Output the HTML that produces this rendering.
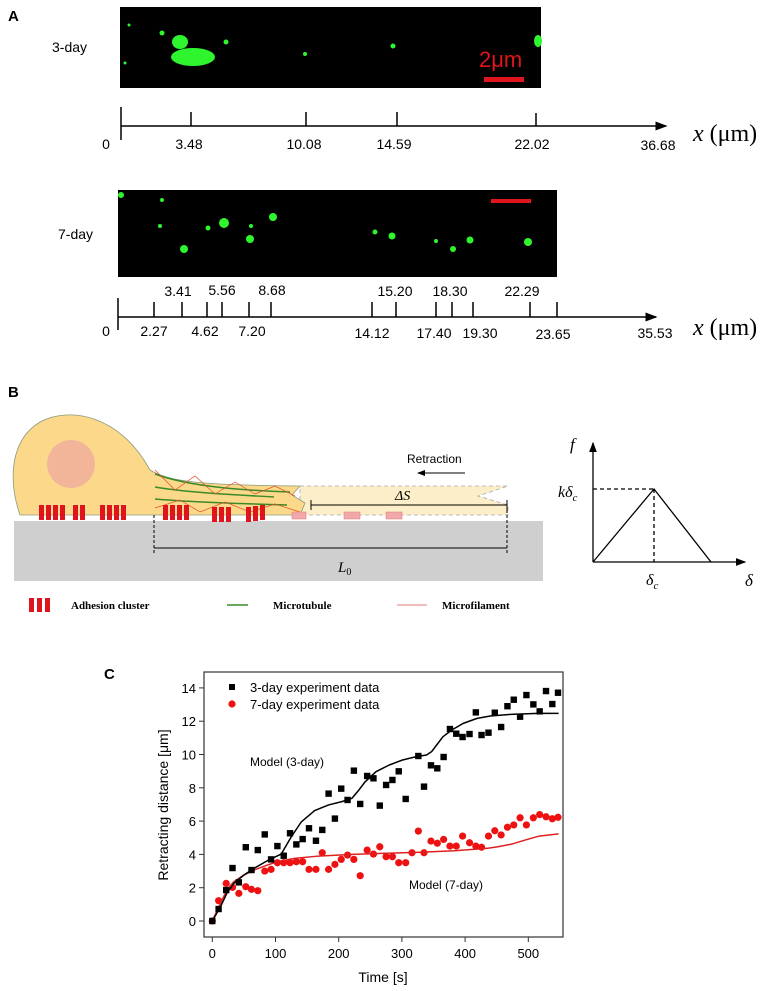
<!DOCTYPE html>
<html><head><meta charset="utf-8"><style>
html,body{margin:0;padding:0;background:#fff;width:767px;height:991px;overflow:hidden}
svg{display:block}
.lbl{font-family:"Liberation Sans",sans-serif}
.num{font-family:"Liberation Sans Narrow","Liberation Sans",sans-serif;font-size:14px}
.ser{font-family:"Liberation Serif",serif}
</style></head><body>
<svg id="fig" width="767" height="991" viewBox="0 0 767 991" xmlns="http://www.w3.org/2000/svg">
<defs>
<marker id="arr" markerWidth="8" markerHeight="8" refX="7" refY="4" orient="auto"><path d="M0,1 L8,4 L0,7 z" fill="#000"/></marker>
</defs>
<!-- Panel A -->
<g>
<text x="8" y="21" class="lbl" font-size="15" font-weight="bold">A</text>
<text x="52" y="52" class="num" font-size="15">3-day</text>
<rect x="120" y="7" width="421" height="81" fill="#000"/>
<g fill="#2ef52e">
<ellipse cx="193" cy="57" rx="22" ry="9"/><ellipse cx="180" cy="42" rx="8" ry="7"/><circle cx="162" cy="33" r="2.5"/><circle cx="226" cy="42" r="2.5"/><circle cx="305" cy="54" r="2"/><circle cx="393" cy="46" r="2.5"/><ellipse cx="538" cy="41" rx="4" ry="6"/><circle cx="125" cy="63" r="1.5"/><circle cx="129" cy="25" r="1.5"/>
</g>
<text x="479" y="67" class="lbl" font-size="22" fill="#e0141c">2μm</text>
<rect x="484" y="77" width="40" height="5" fill="#e0141c"/>
<g stroke="#000" stroke-width="1.5">
<line x1="121" y1="126" x2="666" y2="126" marker-end="url(#arr)"/>
<line x1="121" y1="107" x2="121" y2="140"/>
<line x1="191" y1="112" x2="191" y2="126"/><line x1="306" y1="112" x2="306" y2="126"/><line x1="397" y1="112" x2="397" y2="126"/><line x1="536" y1="113" x2="536" y2="126"/>
</g>
<g class="num" text-anchor="middle">
<text x="106" y="149">0</text><text x="189" y="149">3.48</text><text x="304" y="149">10.08</text><text x="394" y="149">14.59</text><text x="532" y="149">22.02</text><text x="658" y="150">36.68</text>
</g>
<text x="693" y="141" class="ser" font-size="24"><tspan font-style="italic">x</tspan> (μm)</text>

<text x="58" y="239" class="num" font-size="15">7-day</text>
<rect x="118" y="190" width="439" height="87" fill="#000"/>
<g fill="#2ef52e">
<circle cx="184" cy="249" r="4"/><circle cx="224" cy="223" r="5"/><circle cx="208" cy="228" r="2.5"/><circle cx="160" cy="226" r="2"/><circle cx="162" cy="200" r="2"/><circle cx="250" cy="239" r="4"/><circle cx="251" cy="226" r="2"/><circle cx="273" cy="217" r="4"/><circle cx="375" cy="232" r="2.5"/><circle cx="392" cy="236" r="3.5"/><circle cx="436" cy="241" r="2"/><circle cx="453" cy="249" r="3"/><circle cx="470" cy="240" r="3.5"/><circle cx="528" cy="242" r="4"/><circle cx="121" cy="195" r="3"/>
</g>
<rect x="491" y="199" width="40" height="4" fill="#e0141c"/>
<g class="num" text-anchor="middle">
<text x="178" y="296">3.41</text><text x="222" y="295">5.56</text><text x="272" y="295">8.68</text><text x="395" y="296">15.20</text><text x="450" y="296">18.30</text><text x="522" y="296">22.29</text>
</g>
<g stroke="#000" stroke-width="1.5">
<line x1="118" y1="317" x2="656" y2="317" marker-end="url(#arr)"/>
<line x1="118" y1="298" x2="118" y2="330"/>
<line x1="154" y1="302" x2="154" y2="317"/><line x1="182" y1="302" x2="182" y2="317"/><line x1="207" y1="302" x2="207" y2="317"/><line x1="222" y1="302" x2="222" y2="317"/><line x1="249" y1="302" x2="249" y2="317"/><line x1="271" y1="302" x2="271" y2="317"/><line x1="372" y1="302" x2="372" y2="317"/><line x1="396" y1="302" x2="396" y2="317"/><line x1="436" y1="302" x2="436" y2="317"/><line x1="452" y1="302" x2="452" y2="317"/><line x1="473" y1="302" x2="473" y2="317"/><line x1="530" y1="302" x2="530" y2="317"/><line x1="557" y1="302" x2="557" y2="317"/>
</g>
<g class="num" text-anchor="middle">
<text x="106" y="336">0</text><text x="154" y="336">2.27</text><text x="205" y="336">4.62</text><text x="252" y="336">7.20</text><text x="372" y="338">14.12</text><text x="434" y="338">17.40</text><text x="480" y="338">19.30</text><text x="553" y="339">23.65</text><text x="655" y="338">35.53</text>
</g>
<text x="693" y="335" class="ser" font-size="24"><tspan font-style="italic">x</tspan> (μm)</text>
</g>

<!-- Panel B -->
<g>
<text x="8" y="397" class="lbl" font-size="15" font-weight="bold">B</text>
<rect x="14" y="521" width="529" height="60" fill="#cfcfcf"/>
<path d="M300,486 L508,486 L478,496 L508,505 L508,515 L300,515 Z" fill="#fbeec8" stroke="#aaa" stroke-dasharray="4,3" stroke-width="0.8"/>
<path d="M20,515 C8,480 10,440 40,422 C70,406 120,415 150,470 C170,482 200,485 300,486 L292,495 L305,503 L300,515 Z" fill="#fcd98a" stroke="#8a9a7a" stroke-width="0.8"/>
<circle cx="71" cy="464" r="24" fill="#f2b59a"/>
<g fill="none" stroke="#3a8a2a" stroke-width="1.5">
<path d="M155,474 C185,485 230,490 290,492"/><path d="M155,487 C190,493 240,495 274,497"/><path d="M155,499 C190,502 250,504 287,505"/>
</g>
<path d="M155,470 L175,490 L195,476 L215,494 L235,482 L255,494 L275,486 L295,496 M155,508 L180,500 L200,512 L225,502 L250,512 L275,504 L300,512" fill="none" stroke="#e0502a" stroke-width="0.7"/>
<g fill="#e0141c">
<rect x="39" y="505" width="5" height="15"/><rect x="46" y="505" width="5" height="15"/><rect x="53" y="505" width="5" height="15"/><rect x="60" y="505" width="5" height="15"/><rect x="73" y="505" width="5" height="15"/><rect x="80" y="505" width="5" height="15"/>
<rect x="100" y="505" width="5" height="15"/><rect x="107" y="505" width="5" height="15"/><rect x="114" y="505" width="5" height="15"/><rect x="121" y="505" width="5" height="15"/>
<rect x="163" y="505" width="5" height="15"/><rect x="170" y="505" width="5" height="15"/><rect x="177" y="505" width="5" height="15"/><rect x="184" y="505" width="5" height="15"/>
<rect x="212" y="507" width="5" height="15"/><rect x="219" y="507" width="5" height="15"/><rect x="226" y="507" width="5" height="15"/>
<rect x="246" y="507" width="5" height="15"/><rect x="253" y="506" width="5" height="15"/><rect x="260" y="505" width="5" height="15"/>
</g>
<g fill="#f2a8a8" stroke="#e07a7a" stroke-width="0.5">
<rect x="292" y="512" width="14" height="7"/><rect x="344" y="512" width="16" height="7"/><rect x="386" y="512" width="16" height="7"/>
</g>
<g stroke="#000" stroke-width="1">
<line x1="311" y1="505" x2="507" y2="505"/><line x1="311" y1="500" x2="311" y2="510"/><line x1="507" y1="500" x2="507" y2="510"/>
<line x1="154" y1="548" x2="507" y2="548"/><line x1="154" y1="515" x2="154" y2="553" stroke-dasharray="3,2"/><line x1="507" y1="510" x2="507" y2="553" stroke-dasharray="3,2"/>
<line x1="465" y1="473" x2="418" y2="473" marker-end="url(#arr)"/>
</g>
<text x="395" y="500" class="ser" font-size="14" font-style="italic">ΔS</text>
<text x="338" y="572" class="ser" font-size="15" font-style="italic">L<tspan font-size="10" dy="3" font-style="normal">0</tspan></text>
<text x="407" y="463" class="lbl" font-size="12">Retraction</text>
<g>
<rect x="29" y="598" width="5" height="14" fill="#e0141c"/><rect x="37" y="598" width="5" height="14" fill="#e0141c"/><rect x="45" y="598" width="5" height="14" fill="#e0141c"/>
<text x="71" y="609" class="ser" font-size="11" font-weight="bold">Adhesion cluster</text>
<line x1="227" y1="605" x2="248" y2="605" stroke="#3a8a2a" stroke-width="1.5"/>
<text x="273" y="609" class="ser" font-size="11" font-weight="bold">Microtubule</text>
<line x1="397" y1="605" x2="427" y2="605" stroke="#e07a7a" stroke-width="1"/>
<text x="442" y="609" class="ser" font-size="11" font-weight="bold">Microfilament</text>
</g>
<g stroke="#000" stroke-width="1.3" fill="none">
<line x1="593" y1="562" x2="593" y2="443" marker-end="url(#arr)"/>
<line x1="593" y1="562" x2="745" y2="562" marker-end="url(#arr)"/>
<polyline points="593,562 654,489 711,562"/>
<line x1="593" y1="489" x2="654" y2="489" stroke-dasharray="4,3"/>
<line x1="654" y1="489" x2="654" y2="562" stroke-dasharray="4,3"/>
</g>
<text x="570" y="450" class="ser" font-size="17" font-style="italic">f</text>
<text x="558" y="497" class="ser" font-size="16" font-style="italic">kδ<tspan font-size="11" dy="4">c</tspan></text>
<text x="646" y="585" class="ser" font-size="16" font-style="italic">δ<tspan font-size="11" dy="4">c</tspan></text>
<text x="745" y="586" class="ser" font-size="17" font-style="italic">δ</text>
</g>

<!-- Panel C -->
<g id="chartC">
<text x="104" y="679" class="lbl" font-size="15" font-weight="bold">C</text>
</g>
</svg>
<script>
const times3 = [0,10,22,32,42,53,62,72,83,93,103,113,123,133,143,153,164,174,184,194,204,214,224,234,245,255,265,275,285,295,306,326,335,346,356,366,376,386,396,407,417,426,437,447,457,467,477,487,497,508,518,528,538,547];
const values3 = [0,0.72,1.86,3.18,2.32,4.43,3.06,4.26,5.2,3.7,4.5,3.92,5.27,4.6,4.92,5.57,4.82,5.47,7.65,6.15,7.95,7.27,9.03,7.03,8.71,8.57,6.93,8.17,8.47,8.99,7.33,9.91,8.07,9.35,9.17,9.85,11.53,11.25,11.05,11.23,12.53,11.17,11.31,12.51,11.65,12.9,13.29,12.27,13.57,13.01,12.59,13.81,13.03,13.71];
const times7 = [0,10,22,32,42,53,62,72,83,93,103,113,123,133,143,153,164,174,184,194,204,214,224,234,245,255,265,275,285,295,306,316,326,335,346,356,366,376,386,396,407,417,426,437,447,457,467,477,487,497,508,518,528,538,547];
const values7 = [0,1.22,2.26,2.02,1.66,2.06,1.9,1.82,3.0,3.1,3.5,3.5,3.5,3.56,3.56,3.1,3.1,4.1,3.1,3.4,3.7,3.96,3.7,2.72,4.26,4.02,4.46,3.86,3.86,3.5,3.5,4.1,5.4,4.1,4.8,4.67,4.9,4.5,4.5,5.1,4.7,4.5,4.43,5.1,5.42,5.17,5.63,5.77,6.2,5.77,6.2,6.39,6.26,6.14,6.23];
const modelT3 = [0,13,23,34,50,66,87,109,125,141,162,184,205,221,232,242,259,280,301,323,339,347,355,365,379,397,419,440,472,515,548];
const modelV3 = [0,0.86,1.66,2.26,2.76,3.16,3.62,4.02,5.06,5.96,6.63,6.97,7.17,7.37,7.87,8.37,8.97,9.37,9.67,9.87,9.97,10.17,10.57,11.07,11.47,11.87,12.17,12.31,12.41,12.47,12.47];
const modelT7 = [0,13,23,34,50,66,87,103,130,168,221,275,329,383,436,452,474,495,517,548];
const modelV7 = [0,1.06,1.86,2.36,2.76,3.06,3.36,3.56,3.76,3.9,4.0,4.07,4.13,4.22,4.37,4.46,4.62,4.86,5.1,5.23];
const xTicks = [0,100,200,300,400,500];
const yTicks = [0,2,4,6,8,10,12,14];

const NS = "http://www.w3.org/2000/svg";
const g = document.getElementById('chartC');
const L=204, R=563, T=672, B=937;
const xs = t => 212.3 + t*0.632;
const ys = v => 921 - v*16.65;
function mk(tag, attrs, parent){const e=document.createElementNS(NS,tag);for(const k in attrs)e.setAttribute(k,attrs[k]);(parent||g).appendChild(e);return e;}

const frame = mk('rect',{x:L,y:T,width:R-L,height:B-T,fill:'none',stroke:'#333','stroke-width':1.2});



xTicks.forEach(t=>{
  const tk = mk('line',{x1:xs(t),x2:xs(t),y1:B,y2:B+5,stroke:'#333'});
  
  
  const tx = mk('text',{x:xs(t),y:958,'text-anchor':'middle','font-size':13,'font-family':'Liberation Sans, sans-serif'});
  tx.textContent = t;
  
  
});
yTicks.forEach(v=>{
  const tk = mk('line',{x1:L-5,x2:L,y1:ys(v),y2:ys(v),stroke:'#333'});
  
  
  const tx = mk('text',{x:L-8,y:ys(v)+5,'text-anchor':'end','font-size':13,'font-family':'Liberation Sans, sans-serif'});
  tx.textContent = v;
  
  
});
const xt = mk('text',{x:383,y:982,'text-anchor':'middle','font-size':14,'font-family':'Liberation Sans, sans-serif'});
xt.textContent='Time [s]';


const yt = mk('text',{x:0,y:0,'text-anchor':'middle','font-size':14,'font-family':'Liberation Sans, sans-serif',transform:'translate(168,805) rotate(-90)'});
yt.textContent='Retracting distance [μm]';



function line(ts, vs, color, name){
  const p = mk('polyline',{points:ts.map((t,i)=>xs(t)+','+ys(vs[i])).join(' '),fill:'none',stroke:color,'stroke-width':1.5,'stroke-linejoin':'round'});
  
  
}
times7.forEach((t,i)=>{
  const c = mk('circle',{cx:xs(t),cy:ys(values7[i]),r:3.6,fill:'#ee1111'});
  
  
});
line(modelT7, modelV7, '#e02020', 'model-7-day-line');
times3.forEach((t,i)=>{
  const s = mk('rect',{x:xs(t)-3.2,y:ys(values3[i])-3.2,width:6.4,height:6.4,fill:'#000'});
  
  
});
line(modelT3, modelV3, '#000', 'model-3-day-line');

const lg1 = mk('rect',{x:229,y:684,width:6,height:6,fill:'#000'});


const lt1 = mk('text',{x:250,y:692,'font-size':13,'font-family':'Liberation Sans, sans-serif'});
lt1.textContent='3-day experiment data';


const lg2 = mk('circle',{cx:232,cy:704,r:3.6,fill:'#ee1111'});


const lt2 = mk('text',{x:250,y:709,'font-size':13,'font-family':'Liberation Sans, sans-serif'});
lt2.textContent='7-day experiment data';


const m3 = mk('text',{x:250,y:766,'font-size':12,'font-family':'Liberation Sans, sans-serif'});
m3.textContent='Model (3-day)';


const m7 = mk('text',{x:409,y:889,'font-size':12,'font-family':'Liberation Sans, sans-serif'});
m7.textContent='Model (7-day)';


</script>
</body></html>
